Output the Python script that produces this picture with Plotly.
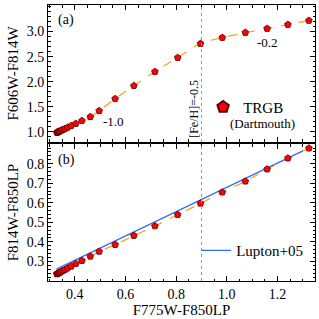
import plotly.graph_objects as go
from plotly.subplots import make_subplots

# [Fe/H] grid of the Dartmouth TRGB models (-2.5 ... 0.0)
feh = [-2.5, -2.4, -2.3, -2.2, -2.1, -2.0, -1.9, -1.8, -1.7, -1.6, -1.5, -1.4, -1.3,
       -1.2, -1.1, -1.0, -0.9, -0.8, -0.7, -0.6, -0.5, -0.4, -0.3, -0.2, -0.1, 0.0]
f775_f850 = [0.329, 0.330, 0.331, 0.333, 0.335, 0.338, 0.342, 0.347, 0.353, 0.361, 0.371,
             0.385, 0.404, 0.428, 0.461, 0.496, 0.559, 0.633, 0.716, 0.806, 0.896, 0.982,
             1.073, 1.159, 1.241, 1.324]
f606_f814 = [0.988, 0.990, 0.992, 0.997, 1.002, 1.009, 1.018, 1.030, 1.045, 1.063, 1.087,
             1.120, 1.165, 1.222, 1.300, 1.420, 1.660, 1.920, 2.200, 2.480, 2.760, 2.880,
             2.980, 3.060, 3.140, 3.220]
f814_f850 = [0.236, 0.237, 0.238, 0.239, 0.240, 0.242, 0.245, 0.249, 0.253, 0.258, 0.265,
             0.275, 0.288, 0.304, 0.326, 0.351, 0.386, 0.432, 0.481, 0.539, 0.597, 0.654,
             0.710, 0.772, 0.828, 0.879]
lupton_x = [0.327, 1.30]
lupton_y = [0.261, 0.865]
feh_line_x = 0.9
x_ticks = [0.4, 0.6, 0.8, 1.0, 1.2]
y_top_ticks = [1.0, 1.5, 2.0, 2.5, 3.0]
y_bot_ticks = [0.3, 0.4, 0.5, 0.6, 0.7, 0.8]

SERIF = "Liberation Serif, Times New Roman, DejaVu Serif, serif"
RED = "#ff0000"
EDGE = "#5a0000"
ORANGE = "#ffa020"
BLUE = "#2f6fff"

fig = make_subplots(rows=2, cols=1, shared_xaxes=True, vertical_spacing=0.008)

# top panel
fig.add_trace(go.Scatter(x=f775_f850, y=f606_f814, mode="lines",
                         line=dict(color=ORANGE, width=1.3, dash="dash", shape="spline"),
                         showlegend=False, hoverinfo="skip"), row=1, col=1)
fig.add_trace(go.Scatter(x=f775_f850, y=f606_f814, mode="markers", name="TRGB",
                         marker=dict(symbol="pentagon", size=7, color=RED, line=dict(color=EDGE, width=0.8)),
                         legend="legend"), row=1, col=1)
# bottom panel
fig.add_trace(go.Scatter(x=f775_f850, y=f814_f850, mode="lines",
                         line=dict(color=ORANGE, width=1.3, dash="dash", shape="spline"),
                         showlegend=False, hoverinfo="skip"), row=2, col=1)
fig.add_trace(go.Scatter(x=lupton_x, y=lupton_y, mode="lines", name="Lupton+05",
                         line=dict(color=BLUE, width=1.3), legend="legend2"), row=2, col=1)
fig.add_trace(go.Scatter(x=f775_f850, y=f814_f850, mode="markers", showlegend=False,
                         marker=dict(symbol="pentagon", size=7, color=RED, line=dict(color=EDGE, width=0.8))),
              row=2, col=1)

for r in (1, 2):
    fig.add_vline(x=feh_line_x, line=dict(color="#999999", width=1, dash="dot"), row=r, col=1)

axis_common = dict(showline=True, linecolor="black", linewidth=1, mirror="ticks", ticks="inside",
                   ticklen=5, tickcolor="black", showgrid=False, zeroline=False,
                   tickfont=dict(family=SERIF, size=14, color="black"))
fig.update_xaxes(**axis_common, range=[0.294, 1.348], tickvals=x_ticks, tickformat=".1f",
                 minor=dict(ticks="inside", ticklen=2.5, dtick=0.05, tick0=0.3, tickcolor="black", showgrid=False))
fig.update_xaxes(showticklabels=False, row=1, col=1)
fig.update_xaxes(title=dict(text="F775W-F850LP", font=dict(family=SERIF, size=15, color="black"), standoff=0),
                 row=2, col=1)
fig.update_yaxes(**axis_common)
fig.update_yaxes(range=[0.8, 3.53], tickvals=y_top_ticks, tickformat=".1f",
                 minor=dict(ticks="inside", ticklen=2.5, dtick=0.1, tick0=0.8, tickcolor="black", showgrid=False),
                 title=dict(text="F606W-F814W", font=dict(family=SERIF, size=15, color="black"), standoff=4),
                 row=1, col=1)
fig.update_yaxes(range=[0.2, 0.9], tickvals=y_bot_ticks, tickformat=".1f",
                 minor=dict(ticks="inside", ticklen=2.5, dtick=0.02, tick0=0.2, tickcolor="black", showgrid=False),
                 title=dict(text="F814W-F850LP", font=dict(family=SERIF, size=15, color="black"), standoff=4),
                 row=2, col=1)

txt = dict(family=SERIF, size=14, color="black")
fig.add_annotation(x=0.03, y=0.96, xref="x domain", yref="y domain", text="(a)", showarrow=False,
                   xanchor="left", yanchor="top", font=txt)
fig.add_annotation(x=0.03, y=0.96, xref="x2 domain", yref="y2 domain", text="(b)", showarrow=False,
                   xanchor="left", yanchor="top", font=txt)
fig.add_annotation(x=0.505, y=1.39, xref="x", yref="y", text="-1.0", showarrow=False,
                   xanchor="left", yanchor="top", font=dict(family=SERIF, size=13, color="black"))
fig.add_annotation(x=1.159, y=2.97, xref="x", yref="y", text="-0.2", showarrow=False,
                   xanchor="center", yanchor="top", font=dict(family=SERIF, size=13, color="black"))
fig.add_annotation(x=0.872, y=0.85, xref="x", yref="y", text="[Fe/H]=-0.5", showarrow=False, textangle=-90,
                   xanchor="center", yanchor="bottom", font=dict(family=SERIF, size=12, color="black"))
fig.add_annotation(x=1.005, y=1.16, xref="x", yref="y", text="(Dartmouth)", showarrow=False,
                   xanchor="left", yanchor="middle", font=dict(family=SERIF, size=13, color="black"))

fig.update_layout(
    width=319, height=319,
    margin=dict(l=48, r=4, t=5, b=38),
    paper_bgcolor="white", plot_bgcolor="white",
    legend=dict(x=0.581, y=0.63, xanchor="left", yanchor="middle", bgcolor="rgba(0,0,0,0)",
                font=dict(family=SERIF, size=15, color="black"), itemsizing="constant", itemwidth=30,
                tracegroupgap=0),
    legend2=dict(x=0.555, y=0.11, xanchor="left", yanchor="middle", bgcolor="rgba(0,0,0,0)",
                 font=dict(family=SERIF, size=15, color="black"), itemwidth=30),
)

fig.write_html("out.html", config={"displayModeBar": False},
               post_script="document.body.style.margin='0';document.body.style.padding='0';")
